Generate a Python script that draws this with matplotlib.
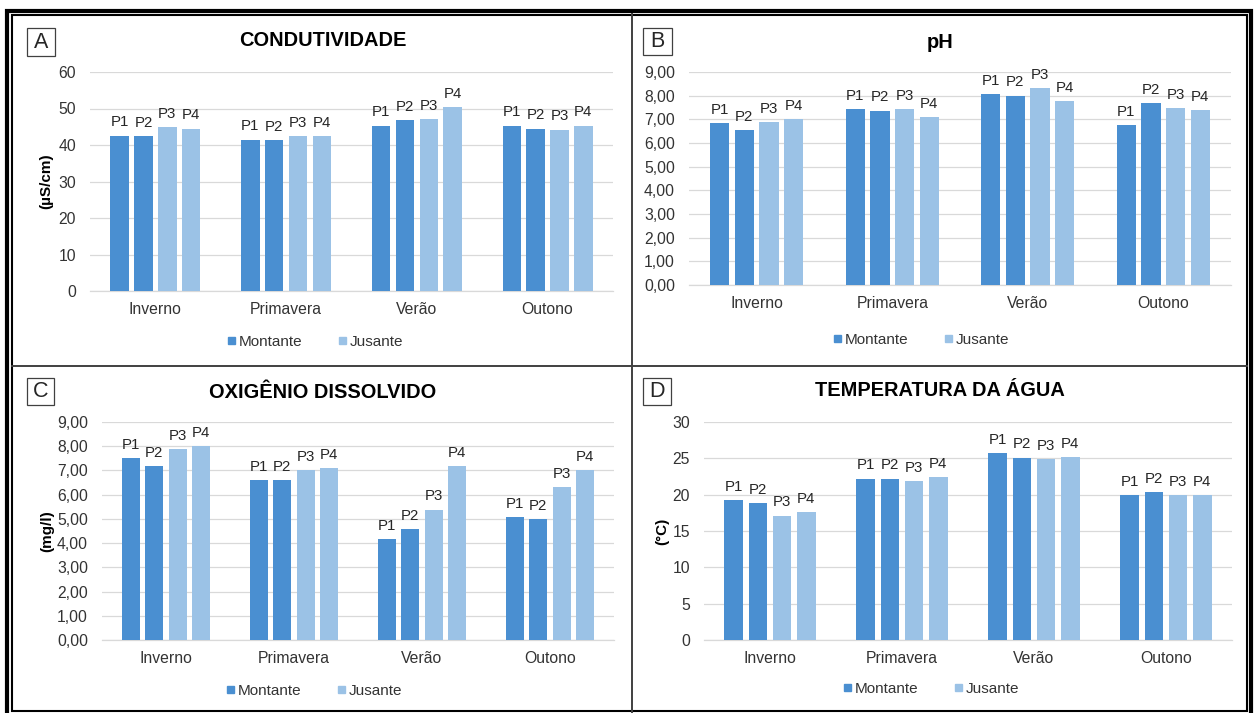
import numpy as np
import matplotlib
matplotlib.use("Agg")
import matplotlib.pyplot as plt
from matplotlib.patches import Rectangle, Patch
from matplotlib.lines import Line2D
from matplotlib.ticker import FuncFormatter, MultipleLocator

plt.rcParams['font.family'] = ['Liberation Sans', 'DejaVu Sans']

W, H = 1258, 713

estacoes = ["Inverno", "Primavera", "Verão", "Outono"]
pontos = ["P1", "P2", "P3", "P4"]
grupos = ["Montante", "Montante", "Jusante", "Jusante"]

# valores por estacao (linhas) e ponto P1..P4 (colunas)
condutividade = [[42.6, 42.4, 44.8, 44.5],
                 [41.5, 41.4, 42.4, 42.4],
                 [45.3, 46.8, 47.1, 50.3],
                 [45.3, 44.5, 44.2, 45.3]]
ph = [[6.83, 6.55, 6.88, 7.00],
      [7.44, 7.37, 7.43, 7.10],
      [8.06, 8.00, 8.33, 7.78],
      [6.76, 7.69, 7.47, 7.40]]
oxigenio = [[7.50, 7.18, 7.88, 8.00],
            [6.60, 6.60, 7.00, 7.09],
            [4.18, 4.57, 5.38, 7.19],
            [5.07, 4.98, 6.30, 7.00]]
temperatura = [[19.2, 18.8, 17.1, 17.6],
               [22.2, 22.2, 21.9, 22.4],
               [25.7, 25.1, 24.9, 25.2],
               [19.9, 20.3, 19.9, 19.9]]

cores = {"Montante": "#4a8fd1", "Jusante": "#9bc2e6"}
cinza = "#404040"

fig = plt.figure(figsize=(W / 100, H / 100), dpi=100)


def fx(x):
    return x / W


def fy(y):
    return 1 - y / H


def painel(dados, rect, ymax, passo, decimal, letra, caixa, titulo, titulo_pos,
           ylabel, ylabel_x, leg_pos):
    x0, y0, x1, y1 = rect
    ax = fig.add_axes([fx(x0), fy(y1), (x1 - x0) / W, (y1 - y0) / H])
    dados = np.array(dados)
    pitch = 0.1825
    for j in range(4):
        xs = np.arange(4) + (j - 1.5) * pitch
        ax.bar(xs, dados[:, j], width=0.142, color=cores[grupos[j]], zorder=3)
        for x, v in zip(xs, dados[:, j]):
            ax.annotate(pontos[j], (x, v), xytext=(0, 4.5), textcoords="offset points",
                        ha="center", va="bottom", fontsize=10.8, color="#262626")
    ax.set_xlim(-0.5, 3.5)
    ax.set_ylim(0, ymax)
    ax.yaxis.set_major_locator(MultipleLocator(passo))
    if decimal:
        ax.yaxis.set_major_formatter(FuncFormatter(lambda v, p: f"{v:.2f}".replace(".", ",")))
    else:
        ax.yaxis.set_major_formatter(FuncFormatter(lambda v, p: f"{v:.0f}"))
    ax.set_xticks(range(4))
    ax.set_xticklabels(estacoes)
    ax.grid(axis="y", color="#d9d9d9", lw=0.9, zorder=0)
    for s in ["top", "right", "left"]:
        ax.spines[s].set_visible(False)
    ax.spines["bottom"].set_color("#d9d9d9")
    ax.spines["bottom"].set_linewidth(0.9)
    ax.tick_params(axis="both", length=0, labelsize=11.3, colors="#333333")
    ax.tick_params(axis="y", pad=10)
    ax.tick_params(axis="x", pad=8)

    # caixa da letra
    bx0, by0, bx1, by1 = caixa
    fig.add_artist(Rectangle((fx(bx0), fy(by1)), (bx1 - bx0) / W, (by1 - by0) / H,
                             transform=fig.transFigure, fill=False, ec=cinza, lw=0.9))
    fig.text(fx((bx0 + bx1) / 2), fy((by0 + by1) / 2), letra, ha="center", va="center",
             fontsize=15.5, color="#262626")
    fig.text(fx(titulo_pos[0]), fy(titulo_pos[1]), titulo, ha="center", va="center",
             fontsize=14.4, fontweight="bold", color="black")
    if ylabel:
        fig.text(fx(ylabel_x), fy((y0 + y1) / 2), ylabel, ha="center", va="center",
                 rotation=90, fontsize=11, fontweight="bold", color="black")
    handles = [Patch(color=cores["Montante"]), Patch(color=cores["Jusante"])]
    fig.legend(handles, ["Montante", "Jusante"], loc="center",
               bbox_to_anchor=(fx(leg_pos[0]), fy(leg_pos[1])), ncol=2, frameon=False,
               handlelength=0.4, handleheight=0.4, handletextpad=0.3,
               columnspacing=2.4, fontsize=11, labelcolor="#333333")
    return ax


painel(condutividade, (90, 72, 613, 291), 60, 10, False, "A", (27, 28, 55, 56),
       "CONDUTIVIDADE", (323, 41), "(µS/cm)", 46, (316, 342))
painel(ph, (689, 72, 1231, 285), 9, 1, True, "B", (643, 28, 672, 55),
       "pH", (940, 42), None, None, (922, 340))
painel(oxigenio, (102, 422, 614, 640), 9, 1, True, "C", (27, 378, 54, 405),
       "OXIGÊNIO DISSOLVIDO", (323, 392), "(mg/l)", 47, (315, 691))
painel(temperatura, (704, 422, 1232, 640), 30, 5, False, "D", (643, 378, 671, 405),
       "TEMPERATURA DA ÁGUA", (940, 390), "(°C)", 662, (932, 689))

# divisorias dos paineis
fig.add_artist(Line2D([fx(632), fx(632)], [fy(14), fy(713)], transform=fig.transFigure,
                      color=cinza, lw=1.4))
fig.add_artist(Line2D([fx(12), fx(1247)], [fy(366), fy(366)], transform=fig.transFigure,
                      color=cinza, lw=1.4))

# moldura dupla externa
fig.add_artist(Rectangle((fx(7), fy(730)), (1251 - 7) / W, (730 - 11) / H,
                         transform=fig.transFigure, fill=False, ec="black", lw=3))
fig.add_artist(Rectangle((fx(12), fy(711)), (1247 - 12) / W, (711 - 15) / H,
                         transform=fig.transFigure, fill=False, ec="black", lw=1.5))

fig.savefig("out.png", dpi=100, facecolor="white")
